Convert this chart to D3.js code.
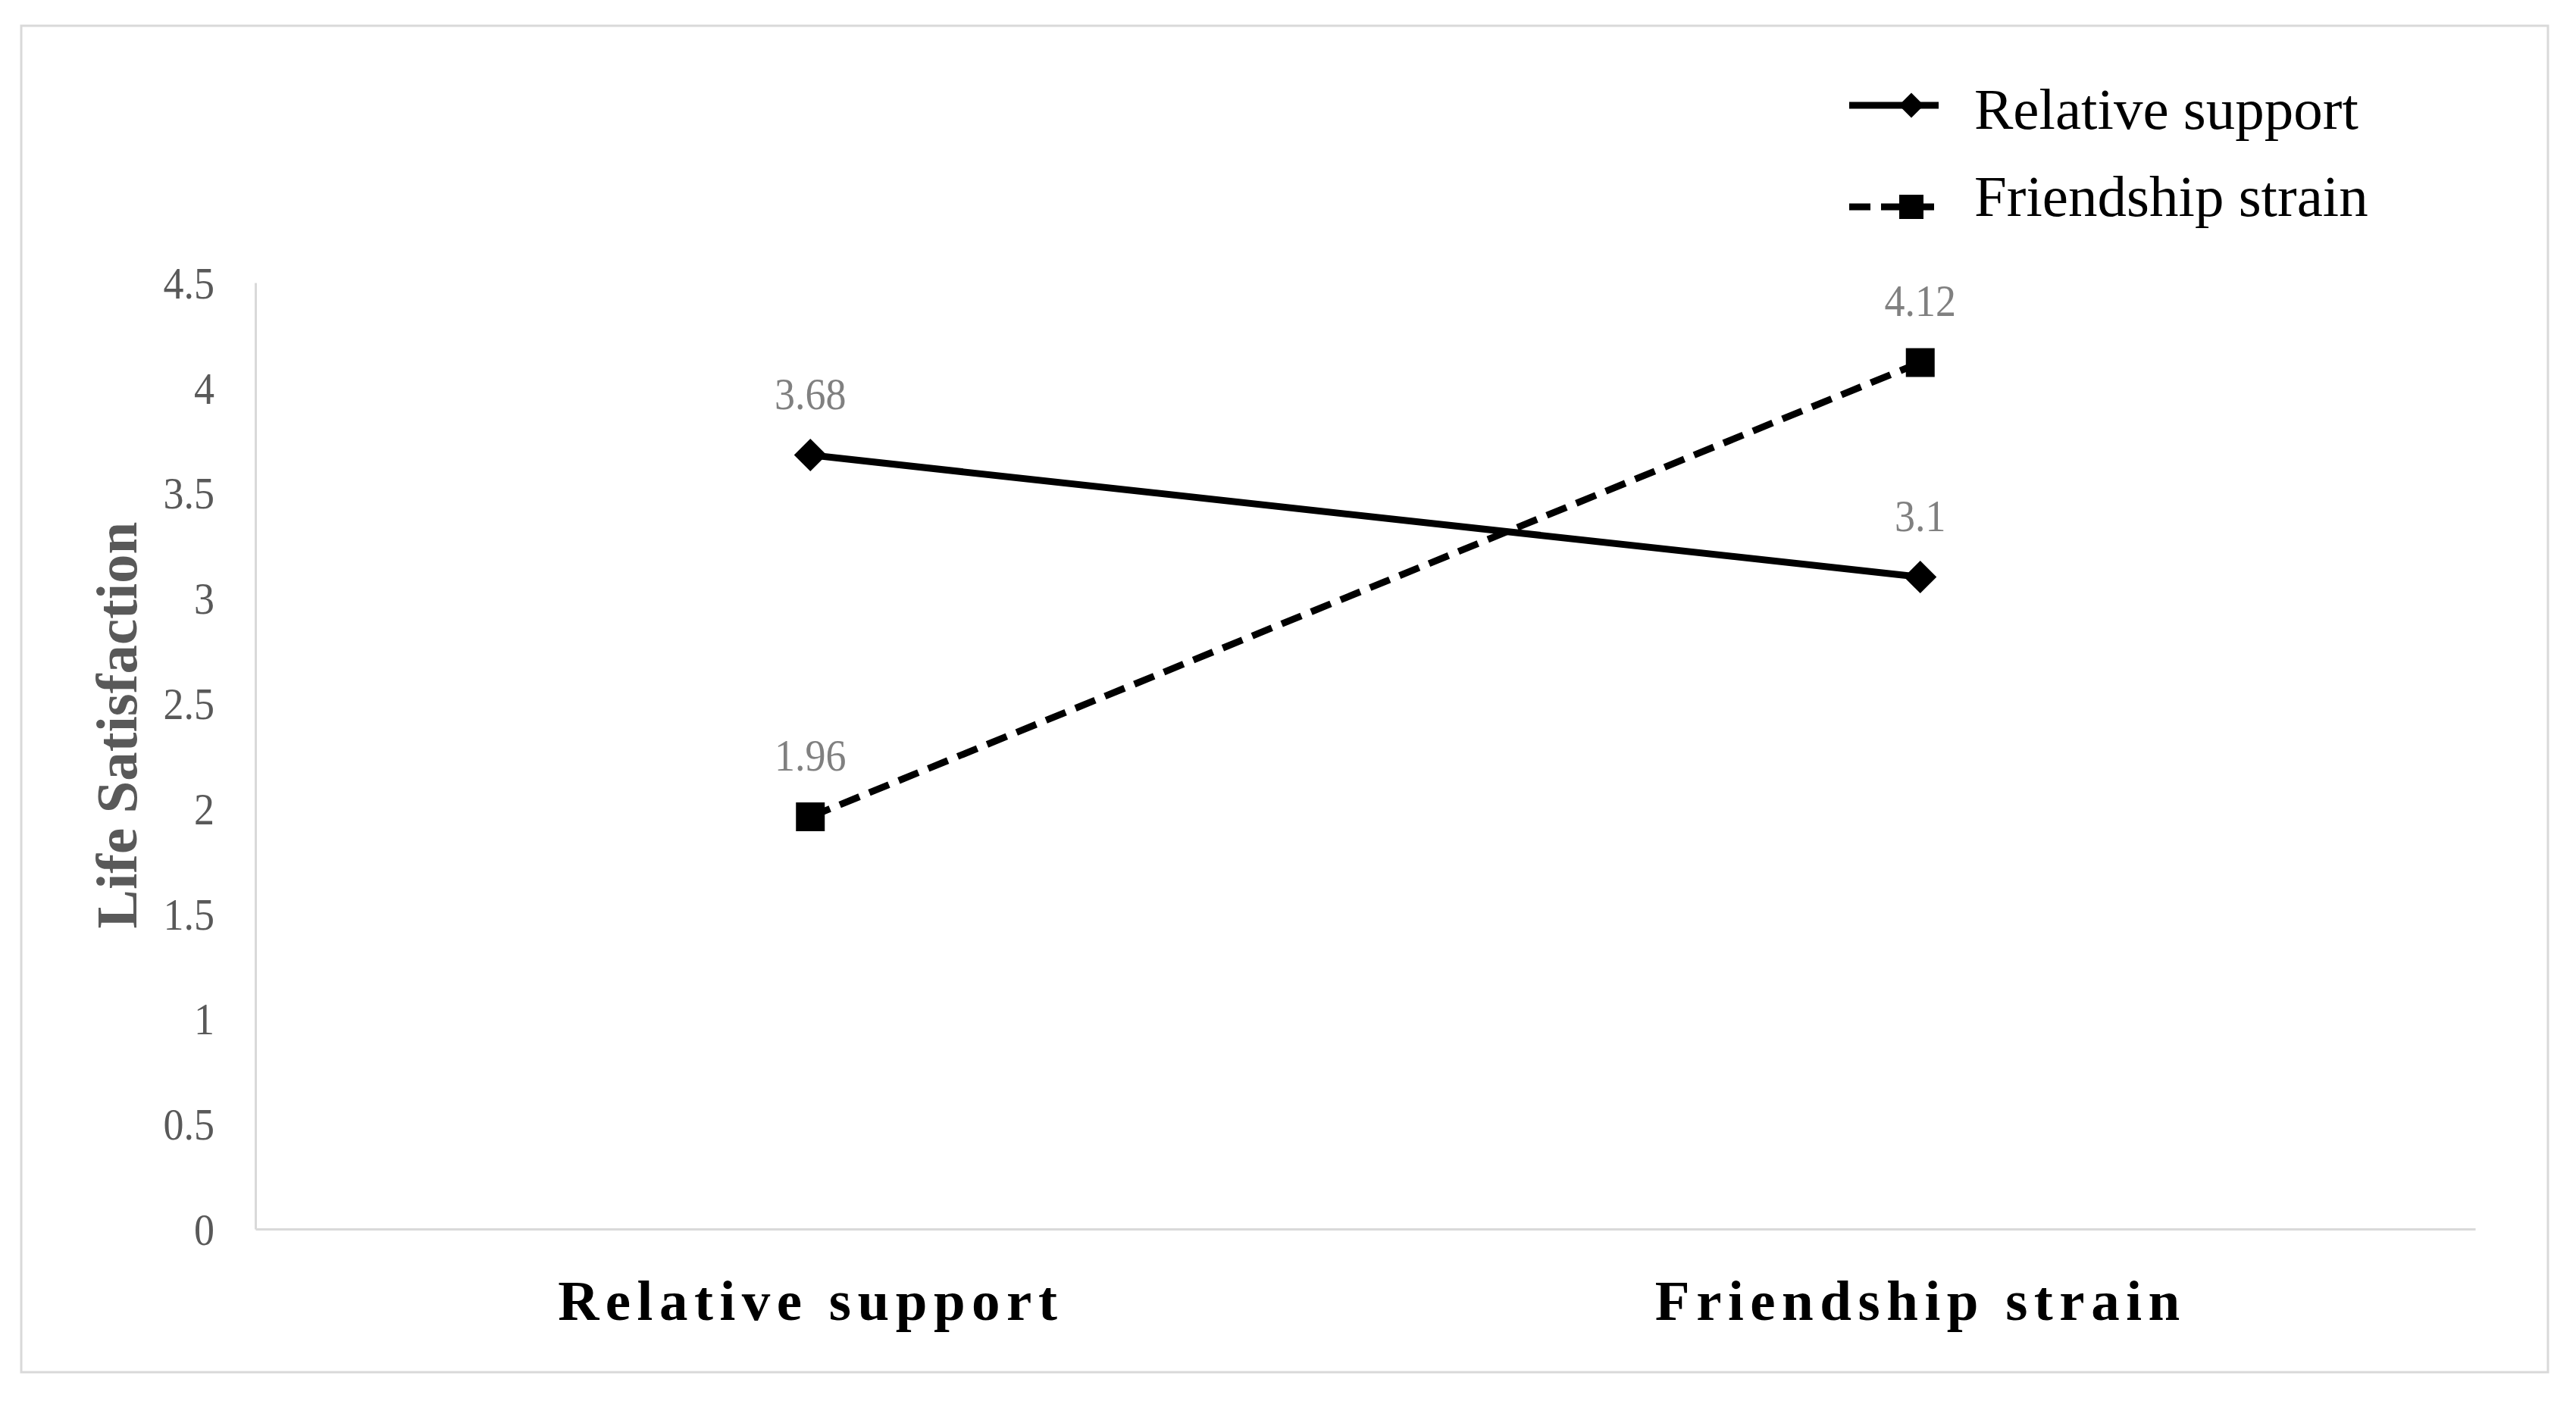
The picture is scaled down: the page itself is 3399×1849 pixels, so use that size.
<!DOCTYPE html>
<html>
<head>
<meta charset="utf-8">
<script src="https://cdn.jsdelivr.net/npm/d3@7"></script>
<style>
  html, body { margin: 0; padding: 0; background: #ffffff; }
  svg { display: block; }
</style>
</head>
<body>
<script>
// ---- data ----
const categories = ["Relative support", "Friendship strain"];
const seriesNames = ["Relative support", "Friendship strain"];
const relativeSupport = [3.68, 3.1];
const friendshipStrain = [1.96, 4.12];
const yTicks = [0, 0.5, 1, 1.5, 2, 2.5, 3, 3.5, 4, 4.5];
const yTickLabels = ["0", "0.5", "1", "1.5", "2", "2.5", "3", "3.5", "4", "4.5"];
const yTitle = "Life Satisfaction";

// ---- layout ----
const W = 3399, H = 1849;
const plot = { left: 337, right: 3266, top: 373, bottom: 1622 };
const FONT = "'Liberation Serif', 'Times New Roman', serif";

const svg = d3.select("body").append("svg")
  .attr("width", W).attr("height", H);

// outer chart border
svg.append("rect")
  .attr("x", 28).attr("y", 34)
  .attr("width", 3362 - 28).attr("height", 1811 - 34)
  .attr("fill", "#ffffff")
  .attr("stroke", "#d9d9d9").attr("stroke-width", 3);

const x = d3.scalePoint().domain(categories).range([plot.left, plot.right]).padding(0.5);
const y = d3.scaleLinear().domain([0, 4.5]).range([plot.bottom, plot.top]);

// y axis
const yAxis = d3.axisLeft(y)
  .tickValues(yTicks)
  .tickSize(0)
  .tickFormat(d => yTickLabels[yTicks.indexOf(d)]);
const gy = svg.append("g").attr("transform", `translate(${plot.left},0)`).call(yAxis);
gy.select(".domain").attr("stroke", "#d9d9d9").attr("stroke-width", 3);
gy.selectAll(".tick text")
  .attr("x", 0).attr("dy", "0.34em")
  .attr("transform", "translate(-54,0) scale(0.9,1)")
  .attr("text-anchor", "end")
  .attr("fill", "#595959")
  .style("font-family", FONT).style("font-size", "60px");

// x axis
const xAxis = d3.axisBottom(x).tickSize(0);
const gx = svg.append("g").attr("transform", `translate(0,${plot.bottom})`).call(xAxis);
gx.select(".domain").attr("stroke", "#d9d9d9").attr("stroke-width", 3);
gx.selectAll(".tick text")
  .attr("y", 120).attr("dy", 0)
  .attr("fill", "#000000")
  .style("font-family", FONT).style("font-size", "75px")
  .style("font-weight", "bold").style("letter-spacing", "8.5px");

// y title
svg.append("text")
  .attr("transform", "translate(180,957) rotate(-90)")
  .attr("text-anchor", "middle")
  .attr("fill", "#595959")
  .style("font-family", FONT).style("font-size", "77px").style("font-weight", "bold")
  .text(yTitle);

// series
const series = [
  { name: seriesNames[0], values: relativeSupport, dash: null, marker: "diamond" },
  { name: seriesNames[1], values: friendshipStrain, dash: "28,14", marker: "square" }
];

const line = d3.line().x(d => x(d.cat)).y(d => y(d.v));

const diamondBig = d3.symbol(d3.symbolSquare, 924)();
const squareBig = d3.symbol(d3.symbolSquare, 1444)();
const diamondSmall = d3.symbol(d3.symbolSquare, 545)();
const squareSmall = d3.symbol(d3.symbolSquare, 1024)();

series.forEach(s => {
  const pts = s.values.map((v, i) => ({ cat: categories[i], v }));
  svg.append("path")
    .datum(pts)
    .attr("d", line)
    .attr("fill", "none")
    .attr("stroke", "#000000")
    .attr("stroke-width", 9)
    .attr("stroke-dasharray", s.dash);
  svg.selectAll(null).data(pts).enter().append("path")
    .attr("d", s.marker === "diamond" ? diamondBig : squareBig)
    .attr("transform", d => `translate(${x(d.cat)},${y(d.v)})` + (s.marker === "diamond" ? " rotate(45)" : ""))
    .attr("fill", "#000000");
  svg.selectAll(null).data(pts).enter().append("text")
    .attr("transform", d => `translate(${x(d.cat)},${y(d.v) - 61}) scale(0.9,1)`)
    .attr("text-anchor", "middle")
    .attr("fill", "#808080")
    .style("font-family", FONT).style("font-size", "60px")
    .text(d => String(d.v));
});

// legend
const legendRows = [
  { name: seriesNames[0], lineY: 139, textY: 170, dash: null, marker: "diamond" },
  { name: seriesNames[1], lineY: 273, textY: 285, dash: "28,14", marker: "square" }
];
legendRows.forEach(r => {
  svg.append("line")
    .attr("x1", 2440).attr("x2", 2558)
    .attr("y1", r.lineY).attr("y2", r.lineY)
    .attr("stroke", "#000000").attr("stroke-width", 9)
    .attr("stroke-dasharray", r.dash);
  svg.append("path")
    .attr("d", r.marker === "diamond" ? diamondSmall : squareSmall)
    .attr("transform", `translate(2522,${r.lineY})` + (r.marker === "diamond" ? " rotate(45)" : ""))
    .attr("fill", "#000000");
  svg.append("text")
    .attr("x", 2605).attr("y", r.textY)
    .attr("fill", "#000000")
    .style("font-family", FONT).style("font-size", "77px")
    .text(r.name);
});
</script>
</body>
</html>
